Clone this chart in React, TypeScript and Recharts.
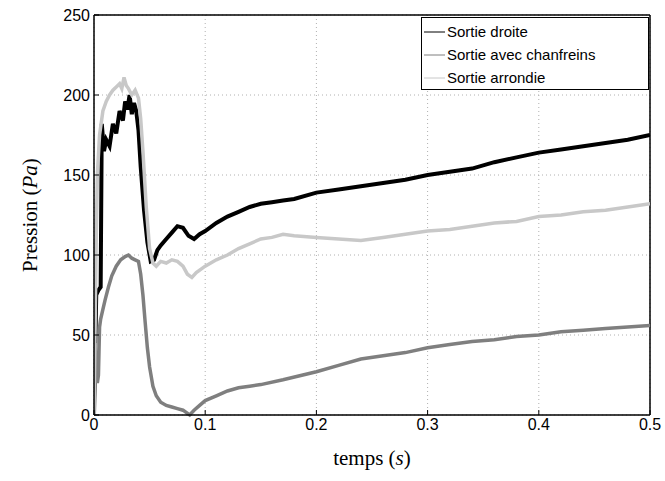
import React from "react";
import {
  LineChart,
  Line,
  XAxis,
  YAxis,
  CartesianGrid,
  ReferenceLine,
} from "recharts";

// temps (s) / pression (Pa)
const tDroite = [0, 0.002, 0.004, 0.006, 0.007, 0.009, 0.011, 0.014, 0.017, 0.02, 0.023, 0.026, 0.028, 0.03, 0.032, 0.034, 0.036, 0.038, 0.04, 0.042, 0.045, 0.048, 0.051, 0.054, 0.057, 0.06, 0.065, 0.07, 0.075, 0.08, 0.085, 0.09, 0.095, 0.1, 0.11, 0.12, 0.13, 0.14, 0.15, 0.16, 0.17, 0.18, 0.2, 0.22, 0.24, 0.26, 0.28, 0.3, 0.32, 0.34, 0.36, 0.38, 0.4, 0.42, 0.44, 0.46, 0.48, 0.5];
const pDroite = [0, 75, 78, 80, 182, 165, 172, 168, 182, 176, 190, 184, 196, 191, 200, 188, 195, 190, 178, 155, 128, 108, 96, 97, 103, 106, 110, 114, 118, 117, 112, 110, 113, 115, 120, 124, 127, 130, 132, 133, 134, 135, 139, 141, 143, 145, 147, 150, 152, 154, 158, 161, 164, 166, 168, 170, 172, 175];

const tChanfreins = [0, 0.001, 0.002, 0.003, 0.004, 0.005, 0.006, 0.008, 0.01, 0.013, 0.016, 0.02, 0.024, 0.028, 0.031, 0.034, 0.037, 0.04, 0.042, 0.044, 0.046, 0.048, 0.05, 0.053, 0.056, 0.06, 0.065, 0.07, 0.075, 0.08, 0.086, 0.09, 0.095, 0.1, 0.11, 0.12, 0.13, 0.14, 0.15, 0.17, 0.2, 0.22, 0.24, 0.26, 0.28, 0.3, 0.32, 0.34, 0.36, 0.38, 0.4, 0.42, 0.44, 0.46, 0.48, 0.5];
const pChanfreins = [0, 45, 30, 20, 25, 55, 60, 66, 72, 80, 87, 93, 97, 99, 100, 98, 97, 96, 88, 75, 58, 42, 30, 18, 12, 8, 6, 5, 4, 3, 0, 3, 6, 9, 12, 15, 17, 18, 19, 22, 27, 31, 35, 37, 39, 42, 44, 46, 47, 49, 50, 52, 53, 54, 55, 56];

const tArrondie = [0, 0.002, 0.003, 0.005, 0.008, 0.011, 0.014, 0.017, 0.02, 0.023, 0.025, 0.027, 0.029, 0.031, 0.034, 0.037, 0.04, 0.042, 0.044, 0.047, 0.05, 0.053, 0.056, 0.06, 0.065, 0.07, 0.075, 0.08, 0.084, 0.088, 0.092, 0.1, 0.11, 0.12, 0.13, 0.14, 0.15, 0.16, 0.17, 0.18, 0.2, 0.22, 0.24, 0.26, 0.28, 0.3, 0.32, 0.34, 0.36, 0.38, 0.4, 0.42, 0.44, 0.46, 0.48, 0.5];
const pArrondie = [0, 110, 150, 175, 190, 196, 200, 203, 205, 207, 204, 211, 206, 204, 200, 203, 198, 185, 165, 130, 104, 95, 93, 96, 95, 97, 96, 93, 88, 86, 89, 93, 97, 100, 104, 107, 110, 111, 113, 112, 111, 110, 109, 111, 113, 115, 116, 118, 120, 121, 124, 125, 127, 128, 130, 132];

const xTicks = [0, 0.1, 0.2, 0.3, 0.4, 0.5];
const yTicks = [0, 50, 100, 150, 200, 250];

const seriesNames = ["Sortie droite", "Sortie avec chanfreins", "Sortie arrondie"];
const seriesColors = ["#000000", "#7f7f7f", "#c8c8c8"];
// the measured signals are noisy, so the traces read as a thick band
const seriesWidths = [4, 3.5, 3.5];

const toRows = (t: number[], p: number[]) => t.map((v, i) => ({ t: v, p: p[i] }));
const series = [
  toRows(tDroite, pDroite),
  toRows(tChanfreins, pChanfreins),
  toRows(tArrondie, pArrondie),
];

const tickFont = { fontFamily: "Liberation Sans, Arial, sans-serif", fontSize: 16, fill: "#000" };
const serif = "Liberation Serif, DejaVu Serif, serif";

function XLabel({ viewBox }: any) {
  const { x, y, width } = viewBox;
  return (
    <text x={x + width / 2} y={y + 50} textAnchor="middle" fontFamily={serif} fontSize={21} fill="#000">
      temps (<tspan fontStyle="italic">s</tspan>)
    </text>
  );
}

function YLabel({ viewBox }: any) {
  const { y, height } = viewBox;
  const cx = 37;
  const cy = y + height / 2;
  return (
    <text x={cx} y={cy} transform={`rotate(-90 ${cx} ${cy})`} textAnchor="middle" fontFamily={serif} fontSize={21} fill="#000">
      Pression (<tspan fontStyle="italic">Pa</tspan>)
    </text>
  );
}

function LegendBox() {
  return (
    <svg width={228} height={73} style={{ position: "absolute", left: 421, top: 17 }}>
      <rect x={0.5} y={0.5} width={227} height={72} fill="#fff" stroke="#000" strokeWidth={1} />
      {seriesNames.map((name, i) => (
        <g key={name}>
          <line x1={3} x2={24} y1={15 + i * 23} y2={15 + i * 23} stroke={seriesColors[i]} strokeWidth={1} />
          <text x={26} y={20 + i * 23} fontFamily="Liberation Sans, Arial, sans-serif" fontSize={15} fill="#000">
            {name}
          </text>
        </g>
      ))}
    </svg>
  );
}

export default function App() {
  return (
    <div style={{ position: "absolute", left: 0, top: 0, width: 665, height: 481, background: "#fff" }}>
      <LineChart width={665} height={481} margin={{ top: 15, right: 15, bottom: 0, left: 0 }}>
        <CartesianGrid stroke="#b0b0b0" strokeDasharray="1 3" strokeWidth={1} />
        <XAxis
          dataKey="t"
          type="number"
          domain={[0, 0.5]}
          ticks={xTicks}
          tickFormatter={(v) => String(v)}
          height={66}
          tickSize={-5}
          tickMargin={9}
          tickLine={{ stroke: "#000" }}
          tick={tickFont}
          axisLine={{ stroke: "#000", strokeWidth: 1.5 }}
          allowDataOverflow
          label={{ content: XLabel }}
        />
        <YAxis
          type="number"
          domain={[0, 250]}
          ticks={yTicks}
          width={94}
          tickSize={-5}
          tickMargin={9}
          tickLine={{ stroke: "#000" }}
          tick={tickFont}
          axisLine={{ stroke: "#000", strokeWidth: 1.5 }}
          label={{ content: YLabel }}
        />
        <ReferenceLine y={250} stroke="#000" strokeWidth={1.5} ifOverflow="extendDomain" />
        <ReferenceLine x={0.5} stroke="#000" strokeWidth={1.5} ifOverflow="extendDomain" />
        {series.map((rows, i) => (
          <Line
            key={seriesNames[i]}
            data={rows}
            dataKey="p"
            name={seriesNames[i]}
            type="linear"
            stroke={seriesColors[i]}
            strokeWidth={seriesWidths[i]}
            dot={false}
            activeDot={false}
            isAnimationActive={false}
          />
        ))}
      </LineChart>
      <LegendBox />
    </div>
  );
}
